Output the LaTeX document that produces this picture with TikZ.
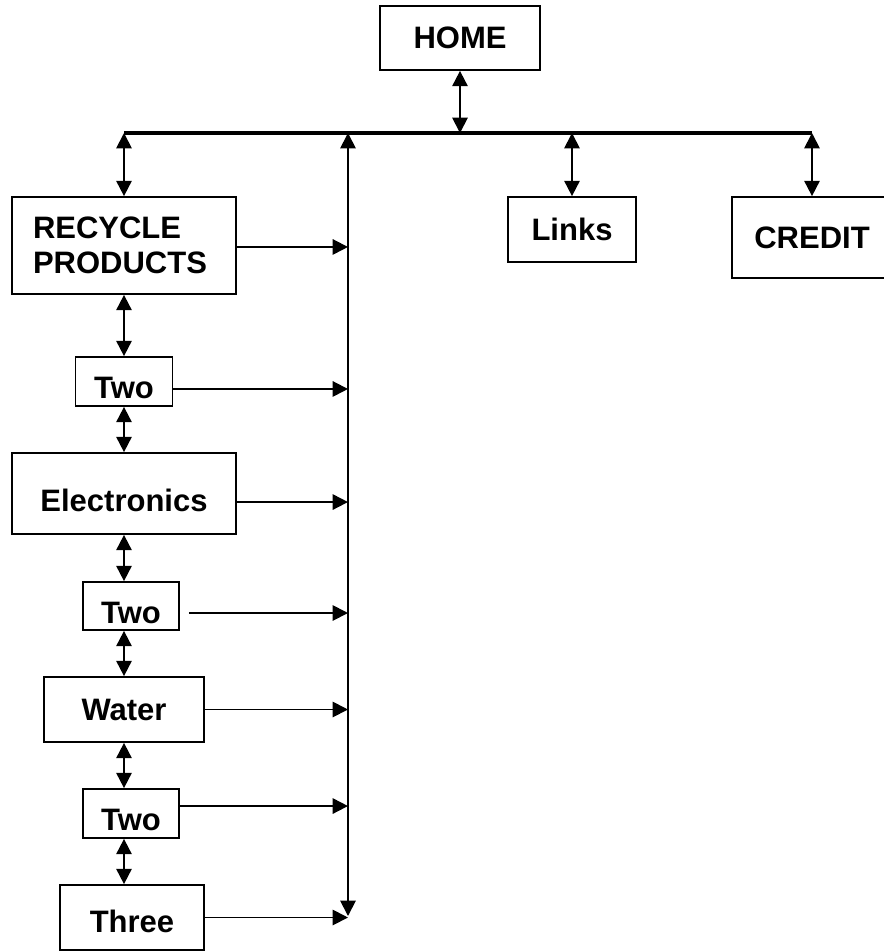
\documentclass[tikz,border=0pt]{standalone}
\usepackage{fontspec}
\setmainfont{Liberation Sans}
\usetikzlibrary{arrows.meta}

\tikzset{every picture/.style={line width=1.4pt}}
\tikzset{
  page/.style={draw, line width=1.3pt, inner sep=0pt, font=\fontsize{23.25}{26.25}\selectfont\bfseries},
  lowtext/.style={text height=#1, text depth=0pt},
  dblarrow/.style={{Triangle[length=11.5pt,width=11.5pt]}-{Triangle[length=11.5pt,width=11.5pt]}},
  toarrow/.style={-{Triangle[length=11.5pt,width=11.5pt]}}
}

\begin{document}
\begin{tikzpicture}[x=0.75pt,y=0.75pt,yscale=-1,xscale=1]
\useasboundingbox (0,0) rectangle (884,951);

%Shape: Rectangle
\node[page, minimum width=120pt, minimum height=48pt] (home) at (460,38) {HOME};
\node[page, minimum width=168pt, minimum height=72.75pt, text width=136.5pt, inner xsep=15.75pt, align=left] (recycle) at (124,245.5) {RECYCLE\\PRODUCTS};
\node[page, minimum width=96pt, minimum height=48.75pt] (links) at (572,229.5) {Links};
\node[page, minimum width=120pt, minimum height=60.75pt] (credit) at (812,237.5) {CREDIT};
\node[page, lowtext=26pt, minimum width=72.75pt, minimum height=36.75pt] (two1) at (124,381.5) {Two};
\node[page, lowtext=27pt, minimum width=168pt, minimum height=60.75pt] (elec) at (124,493.5) {Electronics};
\node[page, lowtext=26pt, minimum width=72pt, minimum height=36pt] (two2) at (131,606) {Two};
\node[page, minimum width=120pt, minimum height=48.75pt] (water) at (124,709.5) {Water};
\node[page, lowtext=26pt, minimum width=72pt, minimum height=36.75pt] (two3) at (131,813.5) {Two};
\node[page, lowtext=23pt, minimum width=108pt, minimum height=48.75pt] (three) at (132,917.5) {Three};

%Straight Lines
\coordinate (busL) at (124,133);
\coordinate (busR) at (812,133);
\coordinate (spine) at (348,133);
\coordinate (spineBot) at (348,916);
\draw[line width=3pt] (busL) -- (busR);
\draw[dblarrow] (home.south) -- (home.south |- busL);
\draw[dblarrow] (recycle.north) -- (recycle.north |- busL);
\draw[dblarrow] (links.north) -- (links.north |- busL);
\draw[dblarrow] (credit.north) -- (credit.north |- busL);
\draw[dblarrow] (spine) -- (spineBot);

%down the left column
\draw[dblarrow] (recycle.south) -- (two1.north);
\draw[dblarrow] (two1.south) -- (elec.north);
\draw[dblarrow] (elec.south) -- (elec.south |- two2.north);
\draw[dblarrow] (two2.south -| elec) -- (water.north);
\draw[dblarrow] (water.south) -- (water.south |- two3.north);
\draw[dblarrow] (two3.south -| water) -- (three.north -| water);

%across to the spine (yshift is flipped by yscale=-1)
\foreach \n/\dy in {recycle/1.1, two1/5.6, elec/6.4, water/0, two3/-5.6, three/0} {
  \coordinate (from) at ([yshift=\dy pt]\n.east);
  \draw[toarrow] (from) -- (from -| spine);
}
\coordinate (from) at ([xshift=6.75pt, yshift=5.25pt]two2.east);
\draw[toarrow] (from) -- (from -| spine);

\end{tikzpicture}
\end{document}
